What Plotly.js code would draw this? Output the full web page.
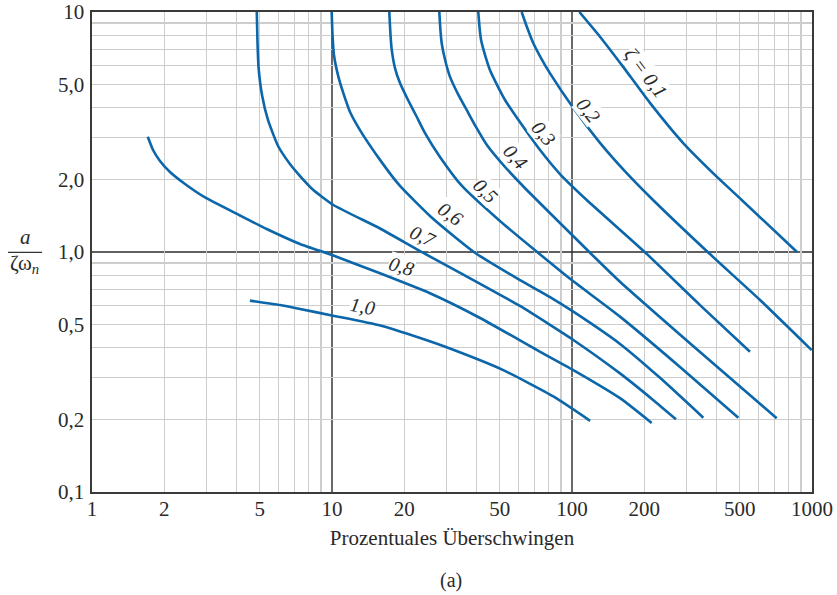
<!DOCTYPE html>
<html><head><meta charset="utf-8">
<script src="https://cdn.plot.ly/plotly-3.0.1.min.js"></script>
<style>html,body{margin:0;padding:0;background:#fff}#chart{width:837px;height:595px}</style>
</head><body><div id="chart"></div>
<script>
// Damping ratio curves: a/(zeta*omega_n) vs percent overshoot
const zetaNames = ["ζ = 0,1","0,2","0,3","0,4","0,5","0,6","0,7","0,8","1,0"];

const z01x = [107.3,130.8,163.1,211.3,290.0,400.8,509.5,866];
const z01y = [10,7.89,5.92,4.18,2.85,2.06,1.647,1.0];

const z02x = [61.7,64.9,69.0,74.3,81.0,101.3,130.8,169.0,211.3,368.7,607.3,997];
const z02y = [10,8.66,7.41,6.43,5.55,3.98,2.85,2.13,1.695,0.997,0.631,0.39];

const z03x = [40.7,41.2,41.8,43.4,45.5,48.7,52.6,61.9,73.6,89.1,115.2,201.5,341.5,551.6];
const z03y = [10,8.58,7.64,6.62,5.73,4.97,4.30,3.38,2.66,2.113,1.647,0.997,0.601,0.384];

const z04x = [28.0,28.3,28.65,29.6,31.0,33.5,36.4,39.8,44.2,52.6,64.8,118.9,158.5,341.5,712.7];
const z04y = [10,8.41,7.41,6.31,5.38,4.55,3.91,3.32,2.79,2.26,1.813,0.993,0.752,0.383,0.203];

const z05x = [17.33,17.53,17.74,18.30,19.2,20.74,22.54,24.41,28.18,34.8,50.1,72.2,99.7,158.5,281.8,493.2];
const z05y = [10,8.02,6.95,5.84,5.06,4.30,3.66,3.13,2.49,1.884,1.346,0.993,0.764,0.538,0.332,0.204];

const z06x = [9.97,10.05,10.19,10.59,11.15,11.89,13.08,15.85,19.2,25.6,32.5,39.4,60.7,81.0,101.3,158.5,232.7,352.5];
const z06y = [10,8.02,6.62,5.46,4.59,3.83,3.22,2.42,1.884,1.413,1.155,0.993,0.764,0.649,0.564,0.414,0.299,0.204];

const z07x = [4.86,4.89,4.94,5.11,5.41,5.96,6.68,7.36,8.36,10.13,15.85,23.94,38.8,60.7,81.0,101.3,158.5,217.6,271.2];
const z07y = [10,7.64,5.92,4.51,3.55,2.765,2.327,2.073,1.813,1.570,1.253,0.993,0.764,0.596,0.497,0.430,0.312,0.242,0.201];

const z08x = [1.707,1.796,1.920,2.113,2.441,2.958,4.138,5.345,7.357,10.13,15.85,25.6,41.4,71.3,101.3,158.5,214.8];
const z08y = [3.02,2.661,2.394,2.154,1.920,1.687,1.419,1.247,1.080,0.967,0.815,0.673,0.531,0.391,0.322,0.246,0.194];

const z10x = [4.55,6.07,7.36,10.1,15.9,23.3,31.0,51.7,83.6,119];
const z10y = [0.627,0.601,0.579,0.543,0.494,0.438,0.396,0.322,0.250,0.198];

// curve labels: position (data units) and angle
const labelX = [201.5,117,75.9,58.4,43.8,31.3,23.9,19.39,13.34];
const labelY = [5.57,3.906,3.12,2.488,1.796,1.440,1.166,0.874,0.596];
const labelAngle = [53,52,50,48,45,35,25,17,10];

const xTickVals = [1,2,5,10,20,50,100,200,500,1000];
const xTickText = ["1","2","5","10","20","50","100","200","500","1000"];
const xGridVals = [2,3,4,5,6,7,8,9,20,30,40,50,60,70,80,90,200,300,400,500,600,700,800,900];
const yTickVals = [0.1,0.2,0.5,1,2,5,10];
const yTickText = ["0,1","0,2","0,5","1,0","2,0","5,0","10"];
const yGridVals = [0.2,0.3,0.4,0.5,0.6,0.7,0.8,0.9,2,3,4,5,6,7,8,9];
const refLinesX = [10,100];
const refLinesY = [1];

const curvesX = [z01x,z02x,z03x,z04x,z05x,z06x,z07x,z08x,z10x];
const curvesY = [z01y,z02y,z03y,z04y,z05y,z06y,z07y,z08y,z10y];

const blue = '#0b66aa';
const ink = '#2a2a2a';
const serif = 'Liberation Serif, Times New Roman, serif';

const traces = curvesX.map((xs,i)=>({
  x: xs, y: curvesY[i], type:'scatter', mode:'lines', name: zetaNames[i],
  line:{color:blue,width:2.6,shape:'spline',smoothing:0.5}, hoverinfo:'skip'
}));

const shapes = [];
refLinesX.forEach(v=>shapes.push({type:'line',xref:'x',yref:'paper',x0:v,x1:v,y0:0,y1:1,line:{color:'#2b2b2b',width:1.4},layer:'between'}));
refLinesY.forEach(v=>shapes.push({type:'line',xref:'paper',yref:'y',x0:0,x1:1,y0:v,y1:v,line:{color:'#2b2b2b',width:1.4},layer:'between'}));
// fraction bar of the y-axis label
shapes.push({type:'line',xref:'paper',yref:'paper',x0:-0.1167,x1:-0.0694,y0:0.4994,y1:0.4994,line:{color:'#333',width:1.2}});

const annotations = zetaNames.map((t,i)=>({
  x: Math.log10(labelX[i]), y: Math.log10(labelY[i]), xref:'x', yref:'y',
  xanchor:'center', yanchor:'middle',
  text:'<i>'+t+'</i>', showarrow:false, textangle: labelAngle[i],
  font:{family:serif,size:20,color:ink}, bgcolor:'rgba(255,255,255,0.95)', borderpad:0
}));
annotations.push({xref:'paper',yref:'paper',x:-0.093,y:0.532,xanchor:'center',yanchor:'middle',text:'<i>a</i>',showarrow:false,font:{family:serif,size:21,color:ink}});
annotations.push({xref:'paper',yref:'paper',x:-0.094,y:0.474,xanchor:'center',yanchor:'middle',text:'ζω<sub><i>n</i></sub>',showarrow:false,font:{family:serif,size:21,color:ink}});
annotations.push({xref:'paper',yref:'paper',x:0.4986,y:-0.185,xanchor:'center',yanchor:'middle',text:'(a)',showarrow:false,font:{family:serif,size:20,color:ink}});

const gridStyle = {showgrid:true,gridcolor:'#cdcdcd',gridwidth:1.3,ticks:''};
const layout = {
  width:837, height:595,
  margin:{l:92,r:25,t:12,b:103},
  paper_bgcolor:'#fff', plot_bgcolor:'#fff',
  showlegend:false,
  font:{family:serif,size:21,color:ink},
  xaxis:{type:'log',range:[0,3],tickmode:'array',tickvals:xTickVals,ticktext:xTickText,
    showgrid:false,ticks:'',ticklabelstandoff:-3,
    minor:Object.assign({tickmode:'array',tickvals:xGridVals},gridStyle),
    showline:true,mirror:true,linecolor:'#3a3a3a',linewidth:1.6,zeroline:false,automargin:false,
    tickfont:{family:serif,size:21,color:ink},
    title:{text:'Prozentuales Überschwingen',font:{family:serif,size:21,color:ink},standoff:10}},
  yaxis:{type:'log',range:[-1,1],tickmode:'array',tickvals:yTickVals,ticktext:yTickText,
    showgrid:false,ticks:'',ticklabelstandoff:2,
    minor:Object.assign({tickmode:'array',tickvals:yGridVals},gridStyle),
    showline:true,mirror:true,linecolor:'#3a3a3a',linewidth:1.6,zeroline:false,automargin:false,
    tickfont:{family:serif,size:21,color:ink}},
  shapes:shapes, annotations:annotations
};
Plotly.newPlot('chart',traces,layout,{displayModeBar:false,staticPlot:true});
</script></body></html>
